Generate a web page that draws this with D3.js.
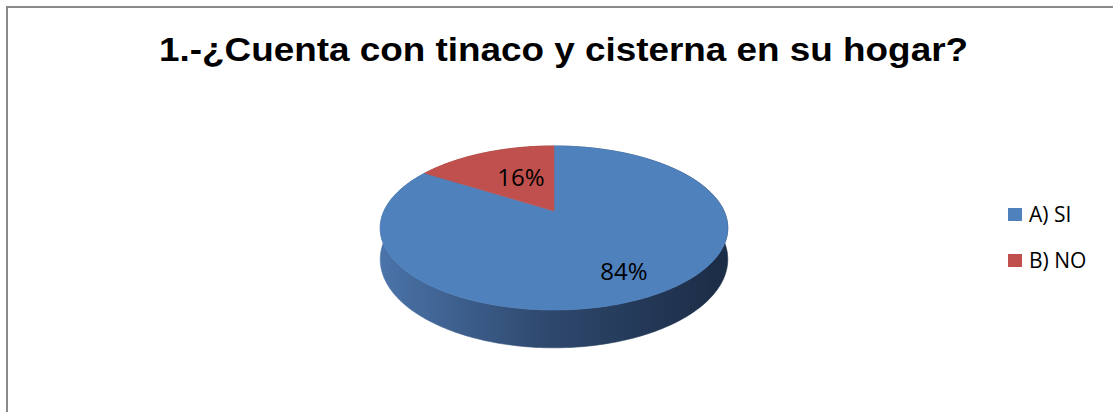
<!DOCTYPE html>
<html>
<head>
<meta charset="utf-8">
<script src="https://cdn.jsdelivr.net/npm/d3@7"></script>
<style>
  html, body { margin: 0; padding: 0; background: #fff; }
  svg { display: block; }
</style>
</head>
<body>
<svg id="chart" width="1113" height="412"></svg>
<script>
const title = "1.-¿Cuenta con tinaco y cisterna en su hogar?";
const categories = ["A) SI", "B) NO"];
const values = [84, 16];
const topColors = ["#4F81BD", "#C0504D"];
const sideLight = ["#4b74aa", "#a8453f"];
const sideDark = ["#1c2d47", "#5a2422"];

const W = 1113, H = 412;
const svg = d3.select("#chart");

// chart border
svg.append("rect")
  .attr("x", 7).attr("y", 7)
  .attr("width", 1300).attr("height", 600)
  .attr("fill", "#fff")
  .attr("stroke", "#8a8a8a").attr("stroke-width", 2);

// title
svg.append("text")
  .attr("x", 159).attr("y", 60.5)
  .attr("textLength", 809)
  .attr("lengthAdjust", "spacingAndGlyphs")
  .style("font-family", "'Liberation Sans', Arial, sans-serif")
  .style("font-weight", "bold")
  .style("font-size", "34px")
  .attr("fill", "#000")
  .text(title);

// 3D pie projection parameters
const cx = 554, cy = 211, sx = 170, sy = 78.5, k = -0.207, depth = 30;
function proj(a, r, down) {
  const X = r * Math.sin(a), Z = -r * Math.cos(a);
  const w = 1 + k * Z;
  return [cx + sx * X / w, cy + sy * Z / w + (down ? depth / w : 0)];
}

const pie = d3.pie().sort(null).value(d => d)(values);

const defs = svg.append("defs");
const xs = d3.scaleLinear().domain([-1, 1]).range([cx - sx, cx + sx]);
pie.forEach((p, i) => {
  const g = defs.append("linearGradient")
    .attr("id", "side" + i)
    .attr("gradientUnits", "userSpaceOnUse")
    .attr("x1", xs(-1.03)).attr("x2", xs(0.95)).attr("y1", 0).attr("y2", 0);
  g.append("stop").attr("offset", "0").attr("stop-color", sideLight[i]);
  g.append("stop").attr("offset", "0.5").attr("stop-color", d3.interpolateRgb(sideLight[i], sideDark[i])(0.62));
  g.append("stop").attr("offset", "1").attr("stop-color", sideDark[i]);
});

function arcPts(a0, a1, down) {
  const n = Math.max(8, Math.ceil((a1 - a0) / (Math.PI / 180)));
  const pts = [];
  for (let j = 0; j <= n; j++) pts.push(proj(a0 + (a1 - a0) * j / n, 1, down));
  return pts;
}

// sides: draw back slices first
const order = pie.map((p, i) => i).sort((a, b) => {
  const ma = (pie[a].startAngle + pie[a].endAngle) / 2;
  const mb = (pie[b].startAngle + pie[b].endAngle) / 2;
  return -Math.cos(ma) - (-Math.cos(mb));
});
order.forEach(i => {
  const p = pie[i];
  const top = arcPts(p.startAngle, p.endAngle, false);
  const bot = arcPts(p.startAngle, p.endAngle, true).reverse();
  svg.append("path")
    .attr("d", d3.line()(top.concat(bot)) + "Z")
    .attr("fill", `url(#side${i})`)
    .attr("stroke", `url(#side${i})`).attr("stroke-width", 0.6);
});

// top faces
pie.forEach((p, i) => {
  const pts = [proj(0, 0, false)].concat(arcPts(p.startAngle, p.endAngle, false));
  svg.append("path")
    .attr("d", d3.line()(pts) + "Z")
    .attr("fill", topColors[i])
    .attr("stroke", topColors[i]).attr("stroke-width", 0.6);
});

// data labels
const labelPos = [[624, 280], [521, 186]];
pie.forEach((p, i) => {
  svg.append("text")
    .attr("x", labelPos[i][0]).attr("y", labelPos[i][1])
    .attr("text-anchor", "middle")
    .style("font-family", "'Open Sans', 'DejaVu Sans', sans-serif")
    .style("font-size", "24px")
    .attr("fill", "#000")
    .text(Math.round(values[i]) + "%");
});

// legend
const legend = svg.append("g");
categories.forEach((c, i) => {
  const y = 208 + i * 46;
  legend.append("rect")
    .attr("x", 1008).attr("y", y).attr("width", 14).attr("height", 13)
    .attr("fill", topColors[i]);
  legend.append("text")
    .attr("x", 1029).attr("y", y + 14)
    .style("font-family", "'Open Sans', 'DejaVu Sans', sans-serif")
    .style("font-size", "21px")
    .attr("fill", "#000")
    .text(c);
});
</script>
</body>
</html>
